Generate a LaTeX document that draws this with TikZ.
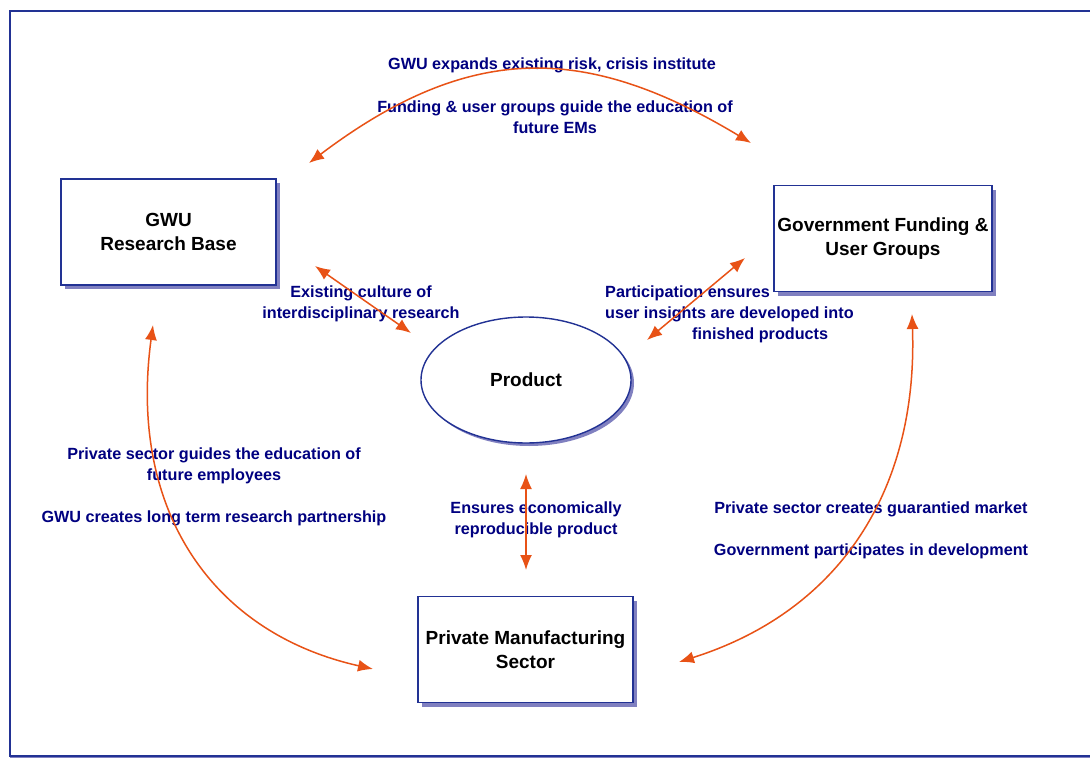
\documentclass[tikz,border=0pt]{standalone}
\usepackage{fontspec}
\setmainfont{Liberation Sans}
\usetikzlibrary{positioning, arrows.meta, shapes.geometric, shadows}
\definecolor{framebl}{RGB}{34,50,148}
\definecolor{shadebl}{RGB}{128,128,192}
\definecolor{linkred}{RGB}{232,82,22}
\definecolor{labelbl}{RGB}{0,0,128}
\tikzset{>={Latex[length=15pt,width=12pt]}}

\begin{document}
\begin{tikzpicture}[x=1pt, y=-1pt,
  block/.style={draw=framebl, line width=1.4pt, fill=white, rectangle, minimum width=215pt, minimum height=106pt, align=center, font=\fontsize{19}{24.5}\selectfont\bfseries, drop shadow={shadow xshift=4pt, shadow yshift=-4pt, fill=shadebl, opacity=1}},
  hub/.style={draw=framebl, line width=1.4pt, fill=white, ellipse, minimum width=210pt, minimum height=126pt, inner sep=0pt, font=\fontsize{19}{24}\selectfont\bfseries, drop shadow={shadow xshift=3pt, shadow yshift=-3pt, fill=shadebl, opacity=1}},
  note/.style={text=labelbl, align=center, inner sep=0pt, font=\fontsize{16.2}{21}\selectfont\bfseries},
  link/.style={<->, draw=linkred, line width=1.5pt}]
\useasboundingbox (0,0) rectangle (1090,760);
\draw[framebl, line width=2pt, fill=white, drop shadow={shadow xshift=0pt, shadow yshift=-2pt, fill=shadebl, opacity=1}] (10,11) rectangle (1110,756);

\node[block] (gwu) at (168.5,232) {GWU\\Research Base};
\node[block] (gov) at (883,238.5) {Government Funding \&\\User Groups};
\node[block] (private) at (525.5,649.5) {Private Manufacturing\\Sector};
\node[hub] (product) at (526,380) {Product};

\node[note] (expand) at (552,65) {GWU expands existing risk, crisis institute};
\node[note] (educate) at (555,117) {Funding \& user groups guide the education of\\future EMs};
\node[note] (culture) at (361,304) {Existing culture of\\interdisciplinary research};
\node[note, align=left, anchor=west] (insight) at (605,314) {Participation ensures\\user insights are developed into\\\hspace*{87pt}finished products};
\node[note] (guides) at (214,465.5) {Private sector guides the education of\\future employees};
\node[note] (partner) at (214,518) {GWU creates long term research partnership};
\node[note] (reproduce) at (536,520) {Ensures economically\\reproducible product};
\node[note] (market) at (871,509) {Private sector creates guarantied market};
\node[note] (develop) at (871,551) {Government participates in development};

\coordinate (gwu-top) at (309,163);
\coordinate (gov-top) at (751,143);
\coordinate (gwu-low) at (153,325);
\coordinate (private-l) at (373,669);
\coordinate (gov-low) at (912,314);
\coordinate (private-r) at (679,662);
\coordinate (gwu-in) at (315,266);
\coordinate (product-l) at (411,333);
\coordinate (gov-in) at (745,258);
\coordinate (product-r) at (647,340);
\coordinate (product-b) at (526,474);
\coordinate (private-t) at (526,570);

\draw[link] (gwu-top) .. controls (472,40) and (588,45) .. (gov-top);
\draw[link] (gwu-low) .. controls (128,510) and (212,633) .. (private-l);
\draw[link] (gov-low) .. controls (918,490) and (840,611) .. (private-r);
\draw[link] (gwu-in) -- (product-l);
\draw[link] (gov-in) -- (product-r);
\draw[link] (product-b) -- (private-t);
\end{tikzpicture}
\end{document}
